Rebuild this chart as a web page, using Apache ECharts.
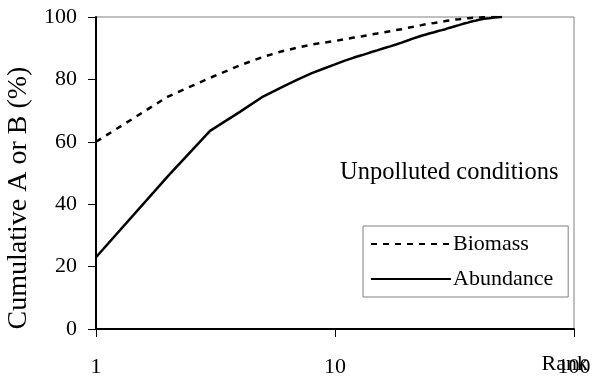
<!DOCTYPE html>
<html>
<head>
<meta charset="utf-8">
<script src="https://cdn.jsdelivr.net/npm/echarts@6/dist/echarts.min.js"></script>
<style>html,body{margin:0;padding:0;background:#fff}#c{width:592px;height:377px}</style>
</head>
<body>
<div id="c"></div>
<script>
var ranks = [1,2,3,4,5,6,7,8,9,10,11,12,13,14,15,16,17,18,19,20,21,22,23,24,25,26,27,28,29,30,31,32,33,34,35,36,37,38,39,40,41,42,43,44,45,46,47,48,49,50];
var abundance = [23,49,63.5,69.6,74.5,77.5,80,82,83.5,84.8,86,87,87.8,88.6,89.3,90,90.6,91.2,91.8,92.4,93,93.5,94,94.4,94.8,95.1,95.5,95.8,96.1,96.5,96.8,97.1,97.4,97.7,98,98.2,98.5,98.7,98.9,99.1,99.3,99.4,99.5,99.6,99.7,99.8,99.9,99.95,100,100];
var biomass = [60,74.5,80.5,84.5,87.2,89,90.2,91.2,91.8,92.3,92.9,93.4,93.8,94.3,94.7,95.1,95.4,95.8,96.1,96.5,96.8,97.1,97.4,97.7,97.9,98.1,98.3,98.5,98.7,98.9,99.05,99.2,99.3,99.4,99.5,99.6,99.7,99.75,99.8,99.85,99.9,99.95,100,100,100,100,100,100,100,100];
var yTicks = [0,20,40,60,80,100];
var xTicks = [1,10,100];
var seriesNames = ['Biomass','Abundance'];
var annotation = 'Unpolluted conditions';
var xTitle = 'Rank';
var yTitle = 'Cumulative A or B (%)';

function pairs(xs, ys){ return xs.map(function(x,i){ return [x, ys[i]]; }); }
var FONT = "'Liberation Serif','Times New Roman',serif";
var chart = echarts.init(document.getElementById('c'), null, {renderer:'canvas'});
chart.setOption({
  animation:false,
  backgroundColor:'#fff',
  textStyle:{fontFamily:FONT, color:'#000'},
  grid:{left:96,right:18,top:17,bottom:48,show:true,borderColor:'#808080',borderWidth:1,backgroundColor:'transparent',
        containLabel:false, outerBoundsMode:'none'},
  legend:{
    orient:'vertical', left:363, top:226,
    data:seriesNames,
    itemWidth:80, itemHeight:14, itemGap:11,
    padding:[6,15,6,7],
    borderColor:'#808080', borderWidth:1, backgroundColor:'#fff',
    itemStyle:{color:'rgba(0,0,0,0)', borderWidth:0, opacity:0},
    textStyle:{fontFamily:FONT, fontSize:22, color:'#000', lineHeight:24, padding:[0,0,0,-3]},
    inactiveColor:'#000'
  },
  xAxis:{
    type:'log', logBase:10, min:1, max:100,
    axisLine:{lineStyle:{color:'#000',width:2}},
    axisTick:{show:true,length:8,lineStyle:{color:'#000',width:1}},
    minorTick:{show:false},
    splitLine:{show:false},
    axisLabel:{fontFamily:FONT,fontSize:22,color:'#000',margin:27,
      formatter:function(v){ return xTicks.indexOf(v)>=0 ? String(v) : ''; }}
  },
  yAxis:{
    type:'value', min:0, max:100, interval:20,
    name:yTitle, nameLocation:'middle', nameGap:57,
    nameTextStyle:{fontFamily:FONT,fontSize:28,color:'#000',padding:[0,50,0,0]},
    axisLine:{show:true,lineStyle:{color:'#000',width:2}},
    axisTick:{show:true,length:8,lineStyle:{color:'#000',width:1}},
    splitLine:{show:false},
    axisLabel:{fontFamily:FONT,fontSize:22,color:'#000',margin:19,
      formatter:function(v){ return yTicks.indexOf(v)>=0 ? String(v) : ''; }}
  },
  graphic:[
    {type:'text', left:340, top:160, style:{text:annotation, font:'24.5px '+FONT, fill:'#000'}},
    {type:'text', right:4, top:353, style:{text:xTitle, font:'22px '+FONT, fill:'#000'}}
  ],
  series:[
    {name:seriesNames[0], type:'line', data:pairs(ranks,biomass), symbol:'none', smooth:false,
     lineStyle:{color:'#000',width:2.5,type:[6,6]}, itemStyle:{color:'#000'}},
    {name:seriesNames[1], type:'line', data:pairs(ranks,abundance), symbol:'none', smooth:false,
     lineStyle:{color:'#000',width:2.5,type:'solid'}, itemStyle:{color:'#000'}}
  ]
});
</script>
</body>
</html>
